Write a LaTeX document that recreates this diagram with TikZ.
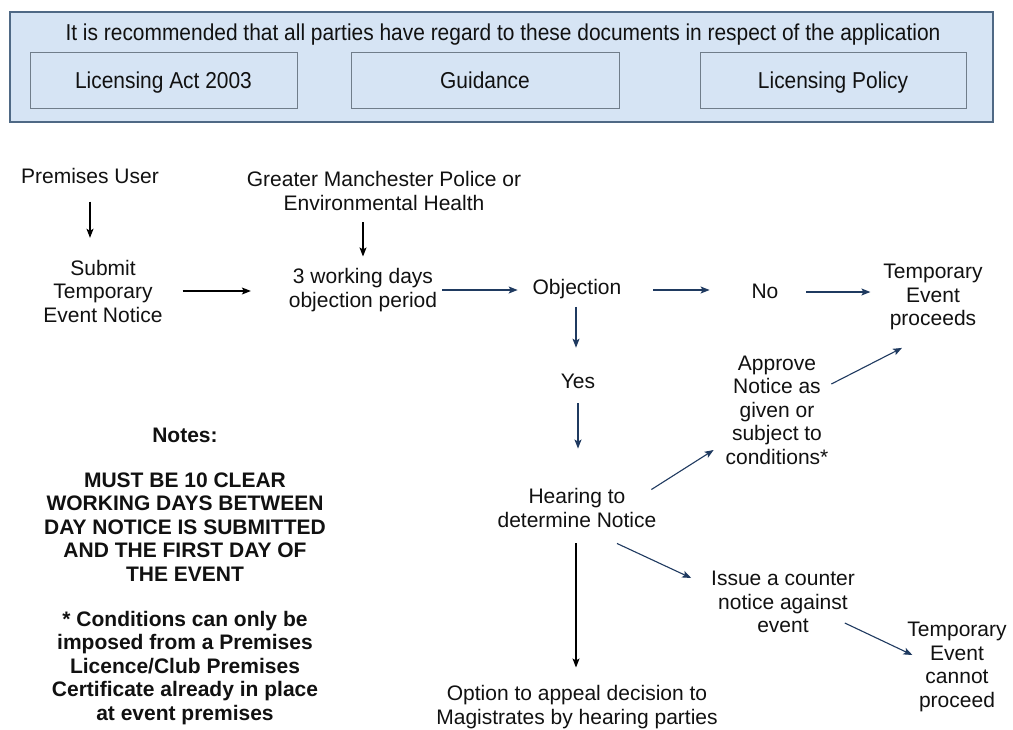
\documentclass[tikz,border=0pt]{standalone}
\usepackage{fontspec}
\setmainfont{Liberation Sans}
\newfontfamily\narrowfont[FakeStretch=0.91]{Liberation Sans}
\usetikzlibrary{arrows.meta,calc}
\definecolor{boxfill}{HTML}{D6E4F4}
\definecolor{boxedge}{HTML}{4F6985}
\definecolor{inneredge}{HTML}{707D8A}
\definecolor{arrblue}{HTML}{1F3A60}
\definecolor{txt}{HTML}{111111}
\begin{document}
\begin{tikzpicture}[x=1pt,y=-1pt,
  every node/.style={inner sep=0pt, outer sep=0pt, text=txt},
  lbl/.style={align=center, font=\fontsize{21}{23.5}\selectfont},
  note/.style={align=center, font=\fontsize{21}{23.5}\selectfont\bfseries},
  arrk/.style={draw=black, line width=1.1pt, -{Stealth[length=9pt,width=7pt,inset=2pt]}},
  arrb/.style={arrk, draw=arrblue},
  docbox/.style={draw=inneredge, line width=1pt, fill=boxfill, minimum height=56pt, text height=19pt, text depth=2pt, font=\narrowfont\fontsize{23}{26}\selectfont},
]
\useasboundingbox (0,0) rectangle (1013,729);
\fill[white] (0,0) rectangle (1013,729);
% top frame
\node[draw=boxedge, line width=1.3pt, fill=boxfill, minimum width=983pt, minimum height=110pt] (frame) at (501.5,67) {};
\node[font=\narrowfont\fontsize{23}{26}\selectfont, text height=18pt, text depth=3pt] (head) at (503,33) {It is recommended that all parties have regard to these documents in respect of the application};
\node[docbox, minimum width=267pt] (act) at (163.5,80) {Licensing Act 2003};
\node[docbox, minimum width=268pt] (guid) at (485,80) {Guidance};
\node[docbox, minimum width=266pt] (pol) at (833,80) {Licensing Policy};
% flow nodes
\node[lbl] (pu) at (90,176) {Premises User};
\node[lbl] (sub) at (103,291) {Submit\\Temporary\\Event Notice};
\node[lbl] (gmp) at (384,191) {Greater Manchester Police or\\Environmental Health};
\node[lbl] (tw) at (363,290) {3 working days\\objection period};
\node[lbl] (obj) at (577,289) {Objection};
\node[lbl] (no) at (765,291) {No};
\node[lbl] (tep) at (933,297) {Temporary\\Event\\proceeds};
\node[lbl] (yes) at (578,381) {Yes};
\node[lbl] (appr) at (777,410) {Approve\\Notice as\\given or\\subject to\\conditions*};
\node[lbl] (hear) at (577,508) {Hearing to\\determine Notice};
\node[lbl] (iss) at (783,602) {Issue a counter\\notice against\\event};
\node[lbl] (tcp) at (957,667) {Temporary\\Event\\cannot\\proceed};
\node[lbl] (opt) at (577,707) {Option to appeal decision to\\Magistrates by hearing parties};
% notes
\node[note] (notes) at (185,435) {Notes:};
\node[note] (must) at (185,527) {MUST BE 10 CLEAR\\WORKING DAYS BETWEEN\\DAY NOTICE IS SUBMITTED\\AND THE FIRST DAY OF\\THE EVENT};
\node[note] (cond) at (185,668) {* Conditions can only be\\imposed from a Premises\\Licence/Club Premises\\Certificate already in place\\at event premises};
% arrows
\draw[arrk] ($(pu.south)+(0,18)$) -- ($(pu.south |- sub.north)+(0,-22)$);
\draw[arrk] ($(gmp.south -| tw.north)+(0,12)$) -- ($(tw.north)+(0,-12)$);
\draw[arrk] ($(sub.east |- tw.center)+(20,1)$) -- ($(tw.west)+(-38,1)$);
\draw[arrb] ($(tw.east)+(5,0)$) -- ($(obj.west)+(-15,1)$);
\draw[arrb] ($(obj.east)+(32,1)$) -- ($(no.west)+(-42,-1)$);
\draw[arrb] ($(no.east)+(28,1)$) -- ($(tep.west |- no.center)+(-13,1)$);
\draw[arrb] ($(obj.south)+(-1,8)$) -- ($(yes.north)+(-2,-26)$);
\draw[arrb] ($(yes.south)+(0,15)$) -- ($(hear.north)+(1,-40)$);
\draw[arrb] ($(hear.north east)+(-5,1)$) -- ($(appr.west |- appr.center)+(-12,40)$);
\draw[arrb] ($(appr.east)+(3,-26)$) -- ($(tep.south)+(-31,18)$);
\draw[arrb] ($(hear.south)+(40,16)$) -- ($(iss.west)+(-20,-24)$);
\draw[arrb] ($(iss.east)+(-10,21)$) -- ($(tcp.west)+(5,-12)$);
\draw[arrk] ($(hear.south)+(-1,16)$) -- ($(opt.north)+(-1,-18)$);
\end{tikzpicture}
\end{document}
